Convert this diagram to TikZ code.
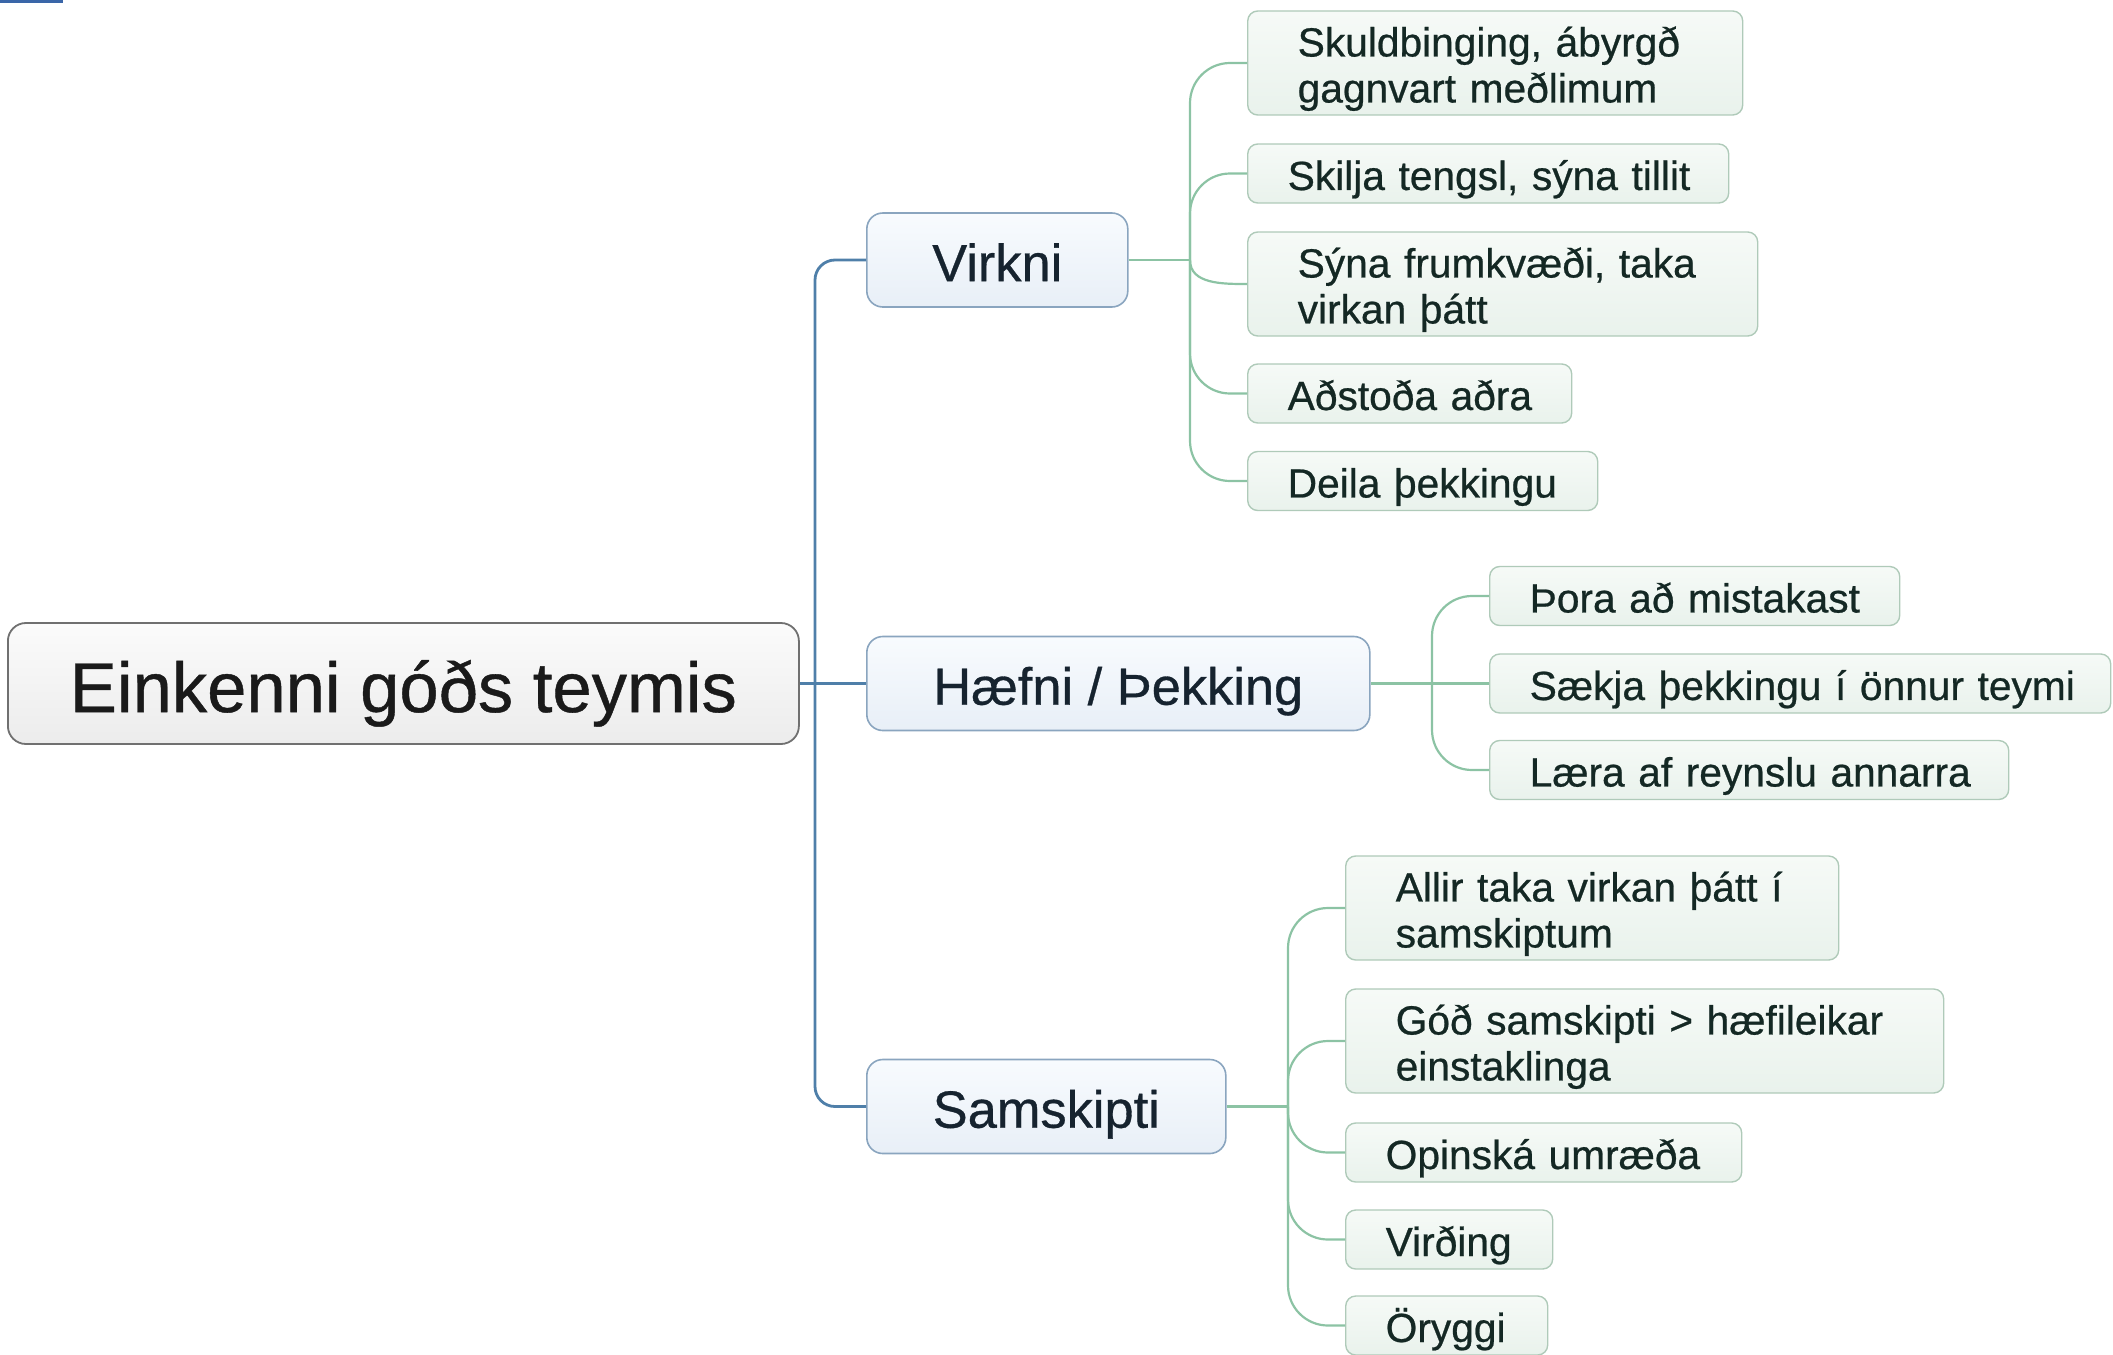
\documentclass[tikz,border=0pt]{standalone}
\usepackage{fontspec}
\setmainfont{Liberation Sans}[FakeBold=0.6]
\definecolor{bline}{HTML}{4F7FA9}
\definecolor{gline}{HTML}{8CC3A4}
\definecolor{ltwoborder}{HTML}{AFCAB9}
\definecolor{ltwotop}{HTML}{F6FAF7}
\definecolor{ltwobot}{HTML}{E9F2EC}
\definecolor{loneborder}{HTML}{8AA5BF}
\definecolor{lonetop}{HTML}{F8FBFE}
\definecolor{lonebot}{HTML}{E8EFF7}
\definecolor{cborder}{HTML}{707070}
\definecolor{ctop}{HTML}{FBFBFB}
\definecolor{cbot}{HTML}{ECECEC}
\definecolor{ctext}{HTML}{1A1A1A}
\definecolor{lonetext}{HTML}{16232F}
\definecolor{ltwotext}{HTML}{142824}
\definecolor{bbar}{HTML}{3A66A8}
\newcommand\topstrut{\rule{0pt}{1.06em}}
\newcommand\botstrut{\rule[-0.25em]{0pt}{0.25em}}
\begin{document}
\begin{tikzpicture}[x=0.5pt,y=-0.5pt,
  centerbox/.style={draw=cborder, line width=0.9pt, rounded corners=9pt,
    top color=ctop, bottom color=cbot, minimum width=395.5pt, minimum height=60.5pt,
    inner sep=0pt, font=\fontsize{35.3}{40}\selectfont, text=ctext, anchor=west,
    execute at begin node=\topstrut, execute at end node=\botstrut},
  lonebox/.style={draw=loneborder, line width=0.8pt, rounded corners=8pt,
    top color=lonetop, bottom color=lonebot, minimum height=47pt, inner sep=0pt,
    font=\fontsize{26.2}{30}\selectfont, text=lonetext, anchor=west,
    execute at begin node=\topstrut, execute at end node=\botstrut},
  ltwobox/.style={draw=ltwoborder, line width=0.7pt, rounded corners=5pt,
    top color=ltwotop, bottom color=ltwobot, inner xsep=20pt, inner ysep=0pt,
    minimum height=29.5pt, align=left, font=\fontsize{20.35}{23}\selectfont,
    text=ltwotext, anchor=west,
    execute at begin node=\topstrut, execute at end node=\botstrut},
  ltwotwo/.style={ltwobox, inner xsep=25pt, minimum height=52pt},
  bl/.style={draw=bline, line width=1.4pt},
  gl/.style={draw=gline, line width=1.1pt}]
\useasboundingbox (0,0) rectangle (2113,1354);
\clip (0,0) rectangle (2113,1354);
\fill[bbar] (0,0) rectangle (63,3);

% root and main branches
\node[centerbox] (c) at (7,683.5) {Einkenni góðs teymis};
\node[lonebox, minimum width=130.5pt] (v) at (866,260) {Virkni};
\node[lonebox, minimum width=251.5pt] (h) at (866,683.5) {Hæfni / Þekking};
\node[lonebox, minimum width=179.5pt] (s) at (866,1106.5) {Samskipti};

% Virkni children
\node[ltwotwo, text width=197.5pt] (v1) at (1247,63) {\mbox{Skuldbinging, ábyrgð}\\\mbox{gagnvart meðlimum}};
\node[ltwobox, text width=200.5pt] (v2) at (1247,173.5) {\mbox{Skilja tengsl, sýna tillit}};
\node[ltwotwo, text width=205pt] (v3) at (1247,284) {\mbox{Sýna frumkvæði, taka}\\\mbox{virkan þátt}};
\node[ltwobox, text width=122pt] (v4) at (1247,393.5) {\mbox{Aðstoða aðra}};
\node[ltwobox, text width=135pt] (v5) at (1247,481) {\mbox{Deila þekkingu}};

% Haefni children
\node[ltwobox, text width=165pt] (h1) at (1489,596) {\mbox{Þora að mistakast}};
\node[ltwobox, text width=270.5pt] (h2) at (1489,683.5) {\mbox{Sækja þekkingu í önnur teymi}};
\node[ltwobox, text width=219.5pt] (h3) at (1489,770) {\mbox{Læra af reynslu annarra}};

% Samskipti children
\node[ltwotwo, text width=196.5pt] (s1) at (1345,908) {\mbox{Allir taka virkan þátt í}\\\mbox{samskiptum}};
\node[ltwotwo, text width=249pt] (s2) at (1345,1041) {\mbox{Góð samskipti > hæfileikar}\\\mbox{einstaklinga}};
\node[ltwobox, text width=158pt] (s3) at (1345,1152.5) {\mbox{Opinská umræða}};
\node[ltwobox, text width=63.5pt] (s4) at (1345,1239.5) {\mbox{Virðing}};
\node[ltwobox, text width=61pt] (s5) at (1345,1325.5) {\mbox{Öryggi}};

% blue connectors
\coordinate (bt) at (815,683.5);
\draw[bl] (c.east) -- (h.west);
\draw[bl, rounded corners=10pt] (bt) |- (v.west);
\draw[bl, rounded corners=10pt] (bt) |- (s.west);

% green connectors: Virkni
\coordinate (vt) at (1190,260);
\draw[gl] (v.east) -- (vt);
\foreach \n in {v1,v2,v4,v5}
  \draw[gl, rounded corners=20pt] (vt) |- (\n.west);
\draw[gl] (vt) to[out=-90,in=180] (v3.west);

% green connectors: Haefni
\coordinate (ht) at (1432,683.5);
\draw[gl] (h.east) -- (h2.west);
\draw[gl, rounded corners=20pt] (ht) |- (h1.west);
\draw[gl, rounded corners=20pt] (ht) |- (h3.west);

% green connectors: Samskipti
\coordinate (st) at (1288,1106.5);
\draw[gl] (s.east) -- (st);
\foreach \n in {s1,s2,s3,s4,s5}
  \draw[gl, rounded corners=20pt] (st) |- (\n.west);
\end{tikzpicture}
\end{document}
